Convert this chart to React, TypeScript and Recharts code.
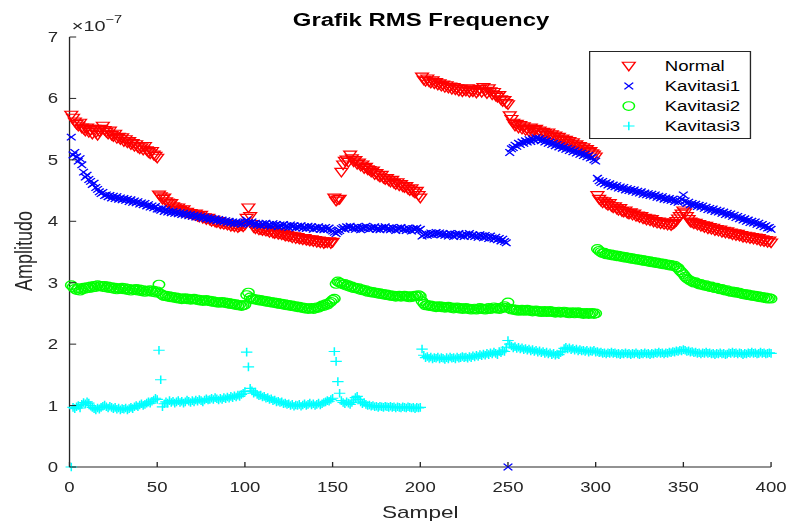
import React from 'react';
import { ScatterChart, Scatter, XAxis, YAxis, Legend, Label } from 'recharts';

// Amplitude readings per sample, in units of 1e-7 (see the axis multiplier).
const normal = [
  5.73, 5.68, 5.62, 5.58, 5.55, 5.6, 5.52, 5.5, 5.47, 5.52,
  5.45, 5.48, 5.42, 5.5, 5.44, 5.4, 5.46, 5.5, 5.55, 5.48,
  5.45, 5.42, 5.47, 5.4, 5.38, 5.42, 5.35, 5.37, 5.33, 5.36,
  5.3, 5.33, 5.28, 5.3, 5.25, 5.27, 5.22, 5.25, 5.2, 5.18,
  5.2, 5.16, 5.22, 5.15, 5.12, 5.1, 5.14, 5.08, 5.06, 5.03,
  4.43, 4.4, 4.36, 4.38, 4.32, 4.3, 4.27, 4.29, 4.24, 4.22,
  4.2, 4.22, 4.18, 4.16, 4.19, 4.14, 4.15, 4.12, 4.13, 4.11,
  4.1, 4.12, 4.08, 4.07, 4.1, 4.05, 4.06, 4.03, 4.05, 4.02,
  4.0, 4.02, 3.99, 3.98, 4.0, 3.96, 3.97, 3.95, 3.97, 3.94,
  3.95, 3.92, 3.94, 3.91, 3.93, 3.9, 3.92, 3.93, 3.91, 3.94,
  4.05, 4.22, 4.08, 3.95, 3.9, 3.88, 3.9, 3.86, 3.87, 3.85,
  3.86, 3.84, 3.85, 3.82, 3.84, 3.81, 3.8, 3.82, 3.79, 3.8,
  3.78, 3.79, 3.76, 3.77, 3.75, 3.76, 3.73, 3.75, 3.72, 3.74,
  3.71, 3.72, 3.7, 3.72, 3.69, 3.7, 3.68, 3.7, 3.67, 3.69,
  3.66, 3.68, 3.65, 3.67, 3.64, 3.66, 3.65, 3.67, 3.64, 3.66,
  4.38, 4.33, 4.35, 4.36, 4.8, 4.92, 4.98, 5.0, 4.96, 5.08,
  5.02, 4.97, 4.99, 4.93, 4.95, 4.9, 4.92, 4.86, 4.88, 4.84,
  4.83, 4.8, 4.82, 4.76, 4.78, 4.74, 4.72, 4.75, 4.7, 4.68,
  4.7, 4.66, 4.64, 4.67, 4.62, 4.6, 4.63, 4.58, 4.6, 4.56,
  4.55, 4.57, 4.52, 4.5, 4.53, 4.48, 4.46, 4.49, 4.42, 4.38,
  6.35, 6.3, 6.28, 6.32, 6.27, 6.25, 6.29, 6.24, 6.26, 6.22,
  6.24, 6.2, 6.22, 6.18, 6.21, 6.17, 6.19, 6.15, 6.18, 6.14,
  6.16, 6.12, 6.15, 6.11, 6.14, 6.12, 6.16, 6.1, 6.13, 6.11,
  6.14, 6.09, 6.12, 6.15, 6.1, 6.18, 6.12, 6.08, 6.16, 6.11,
  6.06, 6.1, 6.04, 6.02, 6.05, 5.98, 5.95, 5.97, 5.92, 5.9,
  5.72, 5.66, 5.6, 5.55, 5.58, 5.52, 5.56, 5.5, 5.54, 5.48,
  5.5, 5.46, 5.52, 5.45, 5.48, 5.5, 5.44, 5.47, 5.42, 5.45,
  5.43, 5.4, 5.44, 5.38, 5.41, 5.36, 5.39, 5.34, 5.37, 5.32,
  5.34, 5.3, 5.32, 5.27, 5.3, 5.25, 5.28, 5.23, 5.25, 5.2,
  5.22, 5.18, 5.2, 5.15, 5.17, 5.12, 5.14, 5.1, 5.08, 5.05,
  4.42, 4.36, 4.33, 4.3, 4.32, 4.28, 4.26, 4.29, 4.24, 4.22,
  4.24, 4.2, 4.18, 4.21, 4.16, 4.15, 4.17, 4.13, 4.12, 4.14,
  4.1, 4.12, 4.08, 4.09, 4.06, 4.08, 4.04, 4.05, 4.02, 4.04,
  4.01, 4.03, 3.99, 4.0, 3.97, 3.99, 3.96, 3.98, 3.95, 3.97,
  3.94, 3.96, 3.93, 3.95, 3.97, 4.0, 4.04, 4.08, 4.12, 4.17,
  4.14, 4.08, 4.03, 3.99, 3.98, 3.96, 3.97, 3.94, 3.95, 3.92,
  3.93, 3.9, 3.92, 3.88, 3.9, 3.87, 3.89, 3.85, 3.87, 3.84,
  3.86, 3.82, 3.84, 3.81, 3.83, 3.8, 3.81, 3.78, 3.8, 3.77,
  3.79, 3.76, 3.77, 3.74, 3.76, 3.73, 3.75, 3.72, 3.74, 3.71,
  3.73, 3.7, 3.72, 3.68, 3.7, 3.67, 3.69, 3.66, 3.68, 3.65,
];

const kavitasi1 = [
  5.37, 5.08, 5.12, 5.05, 4.98, 5.02, 4.92, 4.8, 4.72, 4.75,
  4.68, 4.65, 4.6, 4.62, 4.55, 4.52, 4.48, 4.45, 4.47, 4.42,
  4.43, 4.4, 4.42, 4.38, 4.41, 4.37, 4.4, 4.36, 4.38, 4.35,
  4.37, 4.34, 4.36, 4.32, 4.35, 4.31, 4.33, 4.3, 4.32, 4.28,
  4.3, 4.27, 4.29, 4.25, 4.27, 4.23, 4.25, 4.22, 4.24, 4.2,
  4.2, 4.18, 4.21, 4.16, 4.19, 4.15, 4.17, 4.14, 4.16, 4.13,
  4.15, 4.12, 4.14, 4.11, 4.13, 4.1, 4.12, 4.09, 4.11, 4.08,
  4.1, 4.07, 4.09, 4.06, 4.08, 4.05, 4.07, 4.04, 4.06, 4.03,
  4.05, 4.02, 4.04, 4.01, 4.03, 4.0, 4.02, 3.99, 4.01, 3.98,
  4.0, 3.97, 3.99, 3.96, 3.99, 3.96, 3.98, 3.95, 3.97, 3.99,
  4.02, 3.98, 3.96, 3.99, 3.95, 3.97, 3.94, 3.96, 3.93, 3.96,
  3.94, 3.97, 3.93, 3.95, 3.92, 3.96, 3.93, 3.95, 3.91, 3.94,
  3.92, 3.95, 3.91, 3.93, 3.9, 3.94, 3.91, 3.93, 3.89, 3.92,
  3.9, 3.93, 3.89, 3.91, 3.88, 3.92, 3.89, 3.91, 3.87, 3.9,
  3.88, 3.91, 3.87, 3.89, 3.86, 3.9, 3.87, 3.89, 3.86, 3.84,
  3.82, 3.8, 3.83, 3.85, 3.88, 3.9, 3.87, 3.91, 3.89, 3.92,
  3.88, 3.9, 3.87, 3.91, 3.89, 3.86, 3.9, 3.88, 3.92, 3.89,
  3.87, 3.9, 3.88, 3.91, 3.87, 3.89, 3.86, 3.9, 3.88, 3.91,
  3.87, 3.89, 3.86, 3.9, 3.88, 3.85, 3.89, 3.87, 3.9, 3.86,
  3.88, 3.85, 3.89, 3.87, 3.84, 3.88, 3.86, 3.89, 3.85, 3.87,
  3.76, 3.78, 3.8, 3.77, 3.79, 3.81, 3.78, 3.8, 3.82, 3.79,
  3.81, 3.78, 3.8, 3.77, 3.79, 3.76, 3.8, 3.78, 3.75, 3.79,
  3.77, 3.8, 3.76, 3.78, 3.75, 3.79, 3.77, 3.8, 3.76, 3.78,
  3.75, 3.77, 3.74, 3.78, 3.76, 3.73, 3.77, 3.75, 3.72, 3.76,
  3.73, 3.71, 3.74, 3.7, 3.72, 3.68, 3.71, 3.67, 3.65, 0,
  5.12, 5.18, 5.2, 5.24, 5.22, 5.27, 5.25, 5.29, 5.27, 5.31,
  5.29, 5.33, 5.3, 5.34, 5.32, 5.36, 5.33, 5.35, 5.31, 5.33,
  5.29, 5.31, 5.27, 5.29, 5.25, 5.27, 5.23, 5.25, 5.21, 5.23,
  5.19, 5.21, 5.17, 5.19, 5.15, 5.17, 5.13, 5.15, 5.11, 5.13,
  5.09, 5.11, 5.07, 5.09, 5.05, 5.07, 5.03, 5.04, 5.0, 4.98,
  4.7, 4.66, 4.63, 4.65, 4.61, 4.63, 4.59, 4.61, 4.57, 4.59,
  4.56, 4.58, 4.54, 4.56, 4.53, 4.55, 4.51, 4.53, 4.5, 4.52,
  4.49, 4.51, 4.47, 4.49, 4.46, 4.48, 4.44, 4.46, 4.43, 4.45,
  4.42, 4.44, 4.41, 4.43, 4.39, 4.41, 4.38, 4.4, 4.36, 4.38,
  4.35, 4.37, 4.34, 4.36, 4.32, 4.34, 4.31, 4.33, 4.36, 4.43,
  4.33, 4.29, 4.31, 4.27, 4.29, 4.26, 4.28, 4.24, 4.26, 4.23,
  4.25, 4.21, 4.23, 4.19, 4.21, 4.18, 4.2, 4.16, 4.18, 4.15,
  4.17, 4.13, 4.15, 4.11, 4.13, 4.1, 4.12, 4.08, 4.1, 4.06,
  4.08, 4.04, 4.06, 4.02, 4.04, 4.0, 4.02, 3.98, 4.0, 3.97,
  3.99, 3.95, 3.97, 3.93, 3.95, 3.91, 3.93, 3.89, 3.9, 3.87,
];

const kavitasi2 = [
  2.96, 2.93, 2.9, 2.88, 2.91, 2.87, 2.89, 2.92, 2.9, 2.93,
  2.91, 2.94, 2.92, 2.95, 2.93, 2.96, 2.94, 2.95, 2.93, 2.95,
  2.92, 2.94, 2.91, 2.93, 2.9, 2.92, 2.89, 2.91, 2.9, 2.92,
  2.89, 2.91, 2.88, 2.9, 2.87, 2.89, 2.88, 2.9, 2.87, 2.89,
  2.86, 2.88, 2.85, 2.87, 2.86, 2.88, 2.85, 2.87, 2.84, 2.86,
  2.97, 2.82, 2.8, 2.78, 2.79, 2.77, 2.78, 2.76, 2.77, 2.75,
  2.76, 2.74, 2.75, 2.73, 2.74, 2.75, 2.73, 2.74, 2.72, 2.73,
  2.74, 2.72, 2.73, 2.71, 2.72, 2.7, 2.71, 2.72, 2.7, 2.71,
  2.69, 2.7, 2.68, 2.69, 2.67, 2.68, 2.69, 2.67, 2.68, 2.66,
  2.67, 2.65, 2.66, 2.64, 2.65, 2.63, 2.64, 2.62, 2.63, 2.64,
  2.8, 2.84, 2.76, 2.73, 2.74, 2.72, 2.73, 2.71, 2.72, 2.7,
  2.71, 2.69, 2.7, 2.68, 2.69, 2.67, 2.68, 2.66, 2.67, 2.65,
  2.66, 2.64, 2.65, 2.63, 2.64, 2.62, 2.63, 2.61, 2.62, 2.6,
  2.61, 2.59, 2.6, 2.58, 2.59, 2.57, 2.58, 2.59, 2.57, 2.58,
  2.6, 2.59, 2.61, 2.63, 2.62, 2.65, 2.64, 2.67, 2.69, 2.72,
  2.74, 2.98, 3.02, 3.0, 2.99, 2.97, 2.98, 2.95, 2.96, 2.93,
  2.94, 2.91, 2.92, 2.9, 2.91, 2.88, 2.89, 2.87, 2.88, 2.85,
  2.86, 2.84, 2.85, 2.83, 2.84, 2.82, 2.83, 2.81, 2.82, 2.8,
  2.81, 2.79, 2.8, 2.78, 2.79, 2.77, 2.78, 2.79, 2.77, 2.78,
  2.79, 2.77, 2.78, 2.76, 2.78, 2.77, 2.79, 2.78, 2.8, 2.78,
  2.7, 2.66, 2.63, 2.64, 2.62, 2.63, 2.61, 2.62, 2.6, 2.61,
  2.62, 2.6, 2.61, 2.59, 2.6, 2.61, 2.59, 2.6, 2.58, 2.59,
  2.6, 2.58, 2.59, 2.57, 2.58, 2.59, 2.57, 2.58, 2.56, 2.57,
  2.58, 2.56, 2.57, 2.59, 2.57, 2.58, 2.56, 2.57, 2.59, 2.57,
  2.58, 2.6, 2.58, 2.59, 2.57, 2.58, 2.6, 2.62, 2.59, 2.68,
  2.58, 2.56, 2.57, 2.55, 2.56, 2.54, 2.55, 2.56, 2.54, 2.55,
  2.56, 2.54, 2.55, 2.53, 2.54, 2.55, 2.53, 2.54, 2.52, 2.53,
  2.54, 2.52, 2.53, 2.54, 2.52, 2.53, 2.51, 2.52, 2.53, 2.51,
  2.52, 2.53, 2.51, 2.52, 2.5, 2.51, 2.52, 2.5, 2.51, 2.52,
  2.5, 2.51, 2.49, 2.5, 2.51, 2.49, 2.5, 2.51, 2.49, 2.5,
  3.55, 3.52, 3.5, 3.48, 3.49, 3.46, 3.47, 3.45, 3.46, 3.44,
  3.45, 3.43, 3.44, 3.42, 3.43, 3.41, 3.42, 3.4, 3.41, 3.39,
  3.4, 3.38, 3.39, 3.37, 3.38, 3.36, 3.37, 3.35, 3.36, 3.34,
  3.35, 3.33, 3.34, 3.32, 3.33, 3.31, 3.32, 3.3, 3.31, 3.29,
  3.3, 3.28, 3.29, 3.27, 3.28, 3.25, 3.24, 3.2, 3.17, 3.14,
  3.1, 3.07, 3.05, 3.03, 3.02, 3.0, 3.01, 2.99, 2.97, 2.98,
  2.96, 2.95, 2.96, 2.94, 2.93, 2.94, 2.92, 2.91, 2.92, 2.9,
  2.89, 2.9, 2.88, 2.87, 2.88, 2.86, 2.85, 2.86, 2.84, 2.85,
  2.83, 2.84, 2.82, 2.81, 2.82, 2.8, 2.81, 2.79, 2.8, 2.78,
  2.79, 2.77, 2.78, 2.76, 2.77, 2.75, 2.76, 2.74, 2.75, 2.74,
];

const kavitasi3 = [
  0, 0.97, 0.95, 0.98, 1.0, 0.96, 1.02, 1.05, 1.03, 1.06,
  1.04, 1.0, 0.97, 0.95, 0.93, 0.96, 0.94, 0.97, 0.99, 1.01,
  0.98, 0.96, 0.99, 0.97, 0.95, 0.97, 0.94, 0.96, 0.93, 0.95,
  0.94, 0.96, 0.93, 0.95, 0.97, 0.95, 0.98, 1.0, 0.98, 1.01,
  1.03, 1.0, 1.02, 1.04, 1.06, 1.04, 1.07, 1.09, 1.12, 1.1,
  1.9, 1.42, 0.98, 1.03, 1.06, 1.04, 1.08, 1.05, 1.07, 1.04,
  1.06, 1.08, 1.05, 1.07, 1.04, 1.06, 1.09, 1.07, 1.05, 1.08,
  1.06, 1.09, 1.07, 1.1, 1.08, 1.06, 1.09, 1.11, 1.09, 1.1,
  1.12, 1.1, 1.13, 1.11, 1.09, 1.12, 1.1, 1.13, 1.11, 1.14,
  1.12, 1.15, 1.13, 1.16, 1.14, 1.17, 1.15, 1.18, 1.2, 1.23,
  1.87, 1.63, 1.28, 1.24, 1.2, 1.22, 1.18, 1.16, 1.17, 1.14,
  1.15, 1.12, 1.13, 1.1, 1.11, 1.08, 1.09, 1.06, 1.07, 1.05,
  1.06, 1.03, 1.04, 1.02, 1.03, 1.0, 1.02, 0.99, 1.01, 1.0,
  1.02, 0.99, 1.01, 1.03, 1.0, 1.02, 1.04, 1.01, 1.03, 1.0,
  1.02, 1.04, 1.01, 1.03, 1.05, 1.06, 1.08, 1.07, 1.1, 1.12,
  1.88, 1.72, 1.39, 1.2, 1.08, 1.05, 1.03, 1.06, 1.04, 1.02,
  1.05, 1.09, 1.13, 1.15, 1.1, 1.06, 1.03, 1.05, 1.02, 1.0,
  1.01, 0.99, 1.0, 0.98, 0.99, 0.97, 0.99, 0.98, 0.97, 0.99,
  0.98, 0.97, 0.99, 0.97, 0.98, 0.96, 0.98, 0.97, 0.96, 0.98,
  0.97, 0.96, 0.98, 0.97, 0.96, 0.97, 0.95, 0.97, 0.96, 0.97,
  1.92, 1.82, 1.78, 1.8, 1.77, 1.79, 1.76, 1.78, 1.77, 1.79,
  1.76, 1.78, 1.77, 1.75, 1.78, 1.76, 1.79, 1.77, 1.78, 1.76,
  1.79, 1.77, 1.78, 1.8, 1.78, 1.79, 1.77, 1.8, 1.78, 1.81,
  1.79, 1.82, 1.8, 1.83, 1.81, 1.84, 1.82, 1.85, 1.83, 1.86,
  1.84, 1.87, 1.85, 1.83, 1.88, 1.86, 1.9, 1.88, 1.95, 2.06,
  2.0, 1.97, 1.94, 1.96, 1.93, 1.95, 1.92, 1.94, 1.91, 1.93,
  1.9, 1.92, 1.89, 1.91, 1.88, 1.9, 1.87, 1.89, 1.86, 1.88,
  1.85, 1.87, 1.84, 1.86, 1.83, 1.85, 1.82, 1.84, 1.83, 1.86,
  1.88, 1.93, 1.95, 1.92, 1.94, 1.91, 1.93, 1.9, 1.92, 1.89,
  1.91, 1.89, 1.9, 1.88, 1.9, 1.87, 1.89, 1.88, 1.9, 1.87,
  1.88, 1.86, 1.87, 1.85, 1.86, 1.84, 1.86, 1.85, 1.87, 1.85,
  1.86, 1.84, 1.85, 1.83, 1.85, 1.84, 1.86, 1.84, 1.85, 1.83,
  1.85, 1.84, 1.86, 1.84, 1.83, 1.85, 1.84, 1.86, 1.84, 1.85,
  1.83, 1.85, 1.84, 1.86, 1.85, 1.87, 1.85, 1.86, 1.84, 1.86,
  1.85, 1.87, 1.86, 1.88, 1.87, 1.89, 1.88, 1.9, 1.89, 1.91,
  1.9, 1.88, 1.89, 1.87, 1.88, 1.86, 1.87, 1.85, 1.86, 1.84,
  1.86, 1.85, 1.87, 1.85, 1.86, 1.84, 1.85, 1.83, 1.85, 1.84,
  1.86, 1.84, 1.85, 1.83, 1.84, 1.86, 1.85, 1.87, 1.85, 1.86,
  1.84, 1.86, 1.85, 1.83, 1.85, 1.84, 1.86, 1.85, 1.87, 1.85,
  1.86, 1.84, 1.85, 1.87, 1.85, 1.86, 1.84, 1.85, 1.86, 1.85,
];

const xTicks = [0, 50, 100, 150, 200, 250, 300, 350, 400];
const yTicks = [0, 1, 2, 3, 4, 5, 6, 7];

const FONT = '"Liberation Sans", Arial, Helvetica, sans-serif';
const AXIS_COLOR = '#262626';
const MARK_W = 1.15;

// The figure is laid out on a 595px-wide canvas and widened to 791px.
const BASE_W = 595;
const H = 525;
const STRETCH = 791 / BASE_W;

type MarkerProps = { cx?: number; cy?: number; color: string };

const TriangleDown = ({ cx = 0, cy = 0, color }: MarkerProps) => (
  <path
    d={`M${cx - 4.8},${cy - 3.8} L${cx + 4.8},${cy - 3.8} L${cx},${cy + 4.8} Z`}
    fill="none"
    stroke={color}
    strokeWidth={MARK_W}
  />
);

const Cross = ({ cx = 0, cy = 0, color }: MarkerProps) => (
  <path
    d={`M${cx - 3.3},${cy - 3.3} L${cx + 3.3},${cy + 3.3} M${cx - 3.3},${cy + 3.3} L${cx + 3.3},${cy - 3.3}`}
    fill="none"
    stroke={color}
    strokeWidth={MARK_W}
  />
);

const Ring = ({ cx = 0, cy = 0, color }: MarkerProps) => (
  <circle cx={cx} cy={cy} r={4.3} fill="none" stroke={color} strokeWidth={MARK_W} />
);

const PlusMark = ({ cx = 0, cy = 0, color }: MarkerProps) => (
  <path
    d={`M${cx - 4.3},${cy} L${cx + 4.3},${cy} M${cx},${cy - 4.3} L${cx},${cy + 4.3}`}
    fill="none"
    stroke={color}
    strokeWidth={MARK_W}
  />
);

const toPoints = (vals: number[]) => vals.map((y, i) => ({ x: i + 1, y }));

const series = [
  { name: 'Normal', values: normal, color: '#ff0000', Marker: TriangleDown },
  { name: 'Kavitasi1', values: kavitasi1, color: '#0000ff', Marker: Cross },
  { name: 'Kavitasi2', values: kavitasi2, color: '#00ff00', Marker: Ring },
  { name: 'Kavitasi3', values: kavitasi3, color: '#00ffff', Marker: PlusMark },
];

const XTick = (props: any) => {
  const { x, y, payload } = props;
  return (
    <g>
      <line x1={x} y1={y} x2={x} y2={y - 5} stroke={AXIS_COLOR} strokeWidth={1} />
      <text x={x} y={y + 25} textAnchor="middle" fontSize={14} fontFamily={FONT} fill={AXIS_COLOR}>
        {payload.value}
      </text>
    </g>
  );
};

const YTick = (props: any) => {
  const { x, y, payload } = props;
  return (
    <g>
      <line x1={x} y1={y} x2={x + 5} y2={y} stroke={AXIS_COLOR} strokeWidth={1} />
      <text x={x - 8.5} y={y + 5} textAnchor="end" fontSize={14} fontFamily={FONT} fill={AXIS_COLOR}>
        {payload.value}
      </text>
    </g>
  );
};

const LegendBox = () => (
  <svg width={122} height={88} style={{ display: 'block', overflow: 'visible' }}>
    <rect x={0.5} y={0.5} width={121} height={87} fill="#ffffff" stroke={AXIS_COLOR} strokeWidth={1} />
    {series.map((s, i) => {
      const cy = 15 + i * 20;
      const M = s.Marker;
      return (
        <g key={s.name}>
          <M cx={30} cy={cy} color={s.color} />
          <text x={57} y={cy + 5} fontSize={14} fontFamily={FONT} fill="#000000">
            {s.name}
          </text>
        </g>
      );
    })}
  </svg>
);

export default function App() {
  return (
    <div
      style={{
        position: 'absolute',
        left: 0,
        top: 0,
        width: 791,
        height: H,
        background: '#ffffff',
        overflow: 'hidden',
      }}
    >
      <div
        style={{
          position: 'absolute',
          left: 0,
          top: 0,
          width: BASE_W,
          height: H,
          transform: `scaleX(${STRETCH})`,
          transformOrigin: '0 0',
        }}
      >
        <ScatterChart width={BASE_W} height={H} margin={{ top: 37, right: 15, bottom: 0, left: 0 }}>
          <XAxis
            type="number"
            dataKey="x"
            domain={[0, 400]}
            ticks={xTicks}
            height={58}
            tickSize={0}
            tickMargin={0}
            tickLine={false}
            axisLine={{ stroke: AXIS_COLOR, strokeWidth: 1 }}
            tick={<XTick />}
            interval={0}
          >
            <Label
              content={(p: any) => {
                const vb = p.viewBox || { x: 52.3, y: 467, width: 527.7, height: 58 };
                return (
                  <text
                    x={vb.x + vb.width / 2}
                    y={vb.y + 51}
                    textAnchor="middle"
                    fontSize={17}
                    fontFamily={FONT}
                    fill={AXIS_COLOR}
                  >
                    Sampel
                  </text>
                );
              }}
            />
          </XAxis>
          <YAxis
            type="number"
            dataKey="y"
            domain={[0, 7]}
            ticks={yTicks}
            width={52.3}
            tickSize={0}
            tickMargin={0}
            tickLine={false}
            axisLine={{ stroke: AXIS_COLOR, strokeWidth: 1 }}
            tick={<YTick />}
            interval={0}
          >
            <Label
              content={(p: any) => {
                const vb = p.viewBox || { x: 0, y: 37, width: 52.3, height: 430 };
                const cx = 19.5;
                const cy = vb.y + vb.height / 2 - 1;
                return (
                  <text
                    x={cx}
                    y={cy + 4.7}
                    transform={`rotate(-90, ${cx}, ${cy})`}
                    textAnchor="middle"
                    fontSize={18}
                    fontFamily={FONT}
                    fill={AXIS_COLOR}
                  >
                    Amplitudo
                  </text>
                );
              }}
            />
          </YAxis>
          <Legend
            layout="vertical"
            align="center"
            verticalAlign="middle"
            content={() => <LegendBox />}
            wrapperStyle={{ position: 'absolute', left: 443, top: 51, width: 122, height: 88 }}
          />
          {series.map((s) => {
            const M = s.Marker;
            return (
              <Scatter
                key={s.name}
                name={s.name}
                data={toPoints(s.values)}
                fill={s.color}
                isAnimationActive={false}
                shape={(p: any) => <M cx={p.cx} cy={p.cy} color={s.color} />}
              />
            );
          })}
        </ScatterChart>
        <svg
          width={BASE_W}
          height={40}
          style={{ position: 'absolute', left: 0, top: 0, pointerEvents: 'none', overflow: 'visible' }}
        >
          <text
            x={316.7}
            y={26.5}
            textAnchor="middle"
            fontSize={18}
            fontWeight="bold"
            fontFamily={FONT}
            fill="#000000"
          >
            Grafik RMS Frequency
          </text>
          <text x={54} y={31} fontSize={15} fontFamily={FONT} fill={AXIS_COLOR}>
            ×10
            <tspan dy={-8} fontSize={11}>
              −7
            </tspan>
          </text>
        </svg>
      </div>
    </div>
  );
}
